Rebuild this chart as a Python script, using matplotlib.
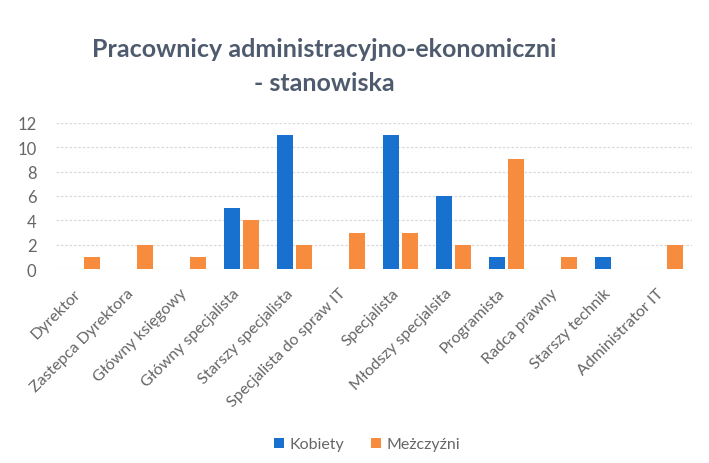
import matplotlib
matplotlib.use("Agg")
import matplotlib.pyplot as plt
import matplotlib.transforms as mtransforms
import numpy as np

categories = ["Dyrektor", "Zastepca Dyrektora", "Główny księgowy", "Główny specjalista",
              "Starszy specjalista", "Specjalista do spraw IT", "Specjalista",
              "Młodszy specjalsita", "Programista", "Radca prawny", "Starszy technik",
              "Administrator IT"]
kobiety = [0, 0, 0, 5, 11, 0, 11, 6, 1, 0, 1, 0]
mezczyzni = [1, 2, 1, 4, 2, 3, 3, 2, 9, 1, 0, 2]
series_names = ["Kobiety", "Meżczyźni"]
y_ticks = [0, 2, 4, 6, 8, 10, 12]

plt.rcParams['font.family'] = ['Lato', 'DejaVu Sans']

fig = plt.figure(figsize=(7.09, 4.64), dpi=100)
ax = fig.add_axes([0.079, 0.418, 0.897, 0.315])

x = np.arange(len(categories))
w = 0.3
blue = "#1870CF"
orange = "#F78B3E"
text_gray = "#666666"
b1 = ax.bar(x - 0.18, kobiety, width=w, color=blue, label=series_names[0], zorder=3)
b2 = ax.bar(x + 0.18, mezczyzni, width=w, color=orange, label=series_names[1], zorder=3)

ax.set_xlim(-0.5, len(categories) - 0.5)
ax.set_ylim(0, 12)
ax.set_yticks(y_ticks)
ax.set_yticklabels([str(t) for t in y_ticks], fontsize=12, color=text_gray)
ax.grid(axis="y", color="#d9d9d9", linewidth=0.9, linestyle=(0, (2, 1.5)), zorder=0)
for s in ax.spines.values():
    s.set_visible(False)
ax.tick_params(axis="both", length=0)
ax.tick_params(axis="y", pad=14)
ax.set_xticks(x)
ax.set_xticklabels(categories, rotation=45, ha="right", rotation_mode="anchor",
                   fontsize=11.5, color=text_gray)
ax.tick_params(axis="x", pad=12)

# nudge the slanted category labels so their ends sit under the group centres
shift = mtransforms.ScaledTranslation(-9 / 100, 0, fig.dpi_scale_trans)
for lbl in ax.get_xticklabels():
    lbl.set_transform(lbl.get_transform() + shift)

fig.text(0.458, 0.857, "Pracownicy administracyjno-ekonomiczni\n- stanowiska",
         ha="center", va="center", fontsize=18, fontweight="bold", color="#4E5B6E",
         linespacing=1.55)

leg = fig.legend(handles=[b1, b2], labels=series_names, loc="center",
                 bbox_to_anchor=(0.518, 0.04), ncol=2, frameon=False, fontsize=11.5,
                 handlelength=0.6, handleheight=0.6, handletextpad=0.35, columnspacing=1.7)
for t in leg.get_texts():
    t.set_color(text_gray)

fig.savefig("out.png", dpi=100, facecolor="white")
